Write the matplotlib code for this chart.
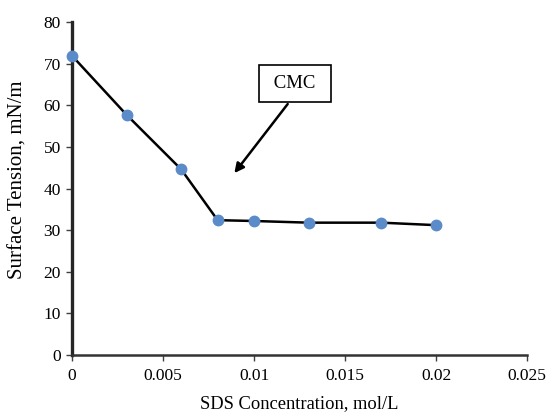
import matplotlib
matplotlib.use("Agg")
import matplotlib.pyplot as plt

conc = [0, 0.003, 0.006, 0.008, 0.010, 0.013, 0.017, 0.020]
tension = [71.9, 57.7, 44.6, 32.4, 32.2, 31.8, 31.8, 31.2]
xticks = [0, 0.005, 0.01, 0.015, 0.02, 0.025]
xticklabels = ["0", "0.005", "0.01", "0.015", "0.02", "0.025"]
yticks = [0, 10, 20, 30, 40, 50, 60, 70, 80]

plt.rcParams['font.family'] = ['Liberation Serif', 'DejaVu Serif']

fig = plt.figure(figsize=(5.48, 4.16), dpi=100)
ax = fig.add_axes([0.1314, 0.1466, 0.8303, 0.8004])

ax.plot(conc, tension, color='black', lw=1.8, marker='o', markersize=7.5,
        markerfacecolor='#5B8BC8', markeredgecolor='#5B8BC8', zorder=3, clip_on=False)

ax.set_xlim(0, 0.025)
ax.set_ylim(0, 80)
ax.set_xticks(xticks)
ax.set_xticklabels(xticklabels)
ax.set_yticks(yticks)
ax.tick_params(axis='both', direction='out', length=4.5, width=1, colors='#404040',
               labelsize=12.5, labelcolor='black')
ax.tick_params(axis='x', pad=5)
ax.tick_params(axis='y', pad=3.5)

for s in ['top', 'right']:
    ax.spines[s].set_visible(False)
ax.spines['left'].set_linewidth(2.4)
ax.spines['left'].set_color('#262626')
ax.spines['bottom'].set_linewidth(1.8)
ax.spines['bottom'].set_color('#333333')

ax.set_xlabel('SDS Concentration, mol/L', fontsize=13.3, labelpad=8)
ax.set_ylabel('Surface Tension, mN/m', fontsize=15)
ax.yaxis.set_label_coords(-0.097, 0.525)

ax.annotate('', xy=(0.00892, 43.7), xytext=(0.01185, 60.3),
            arrowprops=dict(arrowstyle='-|>', color='black', lw=1.8,
                            mutation_scale=14, shrinkA=0, shrinkB=0))
ax.text(0.01225, 65.2, ' CMC ', fontsize=13.5, ha='center', va='center',
        bbox=dict(boxstyle='square,pad=0.55', fc='white', ec='black', lw=1.2))

fig.savefig('out.png', dpi=100)
